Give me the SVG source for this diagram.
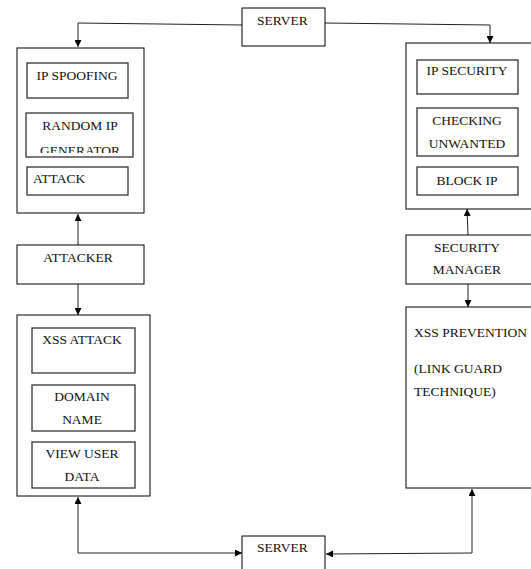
<svg xmlns="http://www.w3.org/2000/svg" width="531" height="569" viewBox="0 0 531 569">
<style>
.box{fill:#fff;stroke:#000;stroke-width:1}
.inner{fill:#fff;stroke:#333;stroke-width:1.3}
.t{font-family:"Liberation Serif","Times New Roman",serif;font-size:13.5px;fill:#111}
.m{text-anchor:middle}
.c{fill:none;stroke:#222;stroke-width:1}
</style>
<defs>
<marker id="ah" viewBox="0 0 10 10" refX="10" refY="5" markerWidth="7" markerHeight="7" markerUnits="userSpaceOnUse" orient="auto-start-reverse">
<path d="M0,0 L10,5 L0,10 Z" fill="#000"/>
</marker>
<clipPath id="clipGen"><rect x="26" y="113" width="107" height="40"/></clipPath>
</defs>
<rect width="531" height="569" fill="#fff"/>
<g id="connectors">
<polyline class="c" points="242,25 78,23 78,47" marker-end="url(#ah)"/>
<polyline class="c" points="325,23 490,25 490,43" marker-end="url(#ah)"/>
<line class="c" x1="78" y1="245" x2="78" y2="214" marker-end="url(#ah)"/>
<line class="c" x1="78" y1="284" x2="78" y2="315" marker-end="url(#ah)"/>
<polyline class="c" points="78,497 78,553 242,553" marker-start="url(#ah)" marker-end="url(#ah)"/>
<line class="c" x1="468" y1="235" x2="467" y2="209" marker-end="url(#ah)"/>
<line class="c" x1="468" y1="275" x2="468" y2="307" marker-end="url(#ah)"/>
<polyline class="c" points="472,489 472,553 326,554" marker-start="url(#ah)" marker-end="url(#ah)"/>
</g>
<g id="server-top">
<rect class="box" x="242" y="8" width="83" height="38"/>
<text class="t" x="257" y="25">SERVER</text>
</g>
<g id="attacker-ip">
<rect class="box" x="17" y="48" width="127" height="165"/>
<g id="ip-spoofing">
<rect class="inner" x="27" y="63" width="101" height="35"/>
<text class="t m" x="77" y="80">IP SPOOFING</text>
</g>
<g id="random-ip">
<rect class="inner" x="26" y="113" width="107" height="44"/>
<text class="t m" x="80" y="130">RANDOM IP</text>
<text class="t m" x="80" y="155" clip-path="url(#clipGen)">GENERATOR</text>
</g>
<g id="attack">
<rect class="inner" x="27" y="167" width="101" height="28"/>
<text class="t" x="33" y="183">ATTACK</text>
</g>
</g>
<g id="attacker">
<rect class="box" x="17" y="245" width="127" height="39"/>
<text class="t m" x="78" y="262">ATTACKER</text>
</g>
<g id="attacker-xss">
<rect class="box" x="17" y="315" width="133" height="181"/>
<g id="xss-attack">
<rect class="inner" x="32" y="328" width="103" height="45"/>
<text class="t m" x="82" y="344">XSS ATTACK</text>
</g>
<g id="domain-name">
<rect class="inner" x="32" y="385" width="103" height="46"/>
<text class="t m" x="82" y="401">DOMAIN</text>
<text class="t m" x="82" y="424">NAME</text>
</g>
<g id="view-user-data">
<rect class="inner" x="32" y="442" width="103" height="46"/>
<text class="t m" x="82" y="458">VIEW USER</text>
<text class="t m" x="82" y="481">DATA</text>
</g>
</g>
<g id="server-bottom">
<rect class="box" x="242" y="536" width="83" height="40"/>
<text class="t" x="257" y="552">SERVER</text>
</g>
<g id="ip-security-group">
<rect class="box" x="406" y="43" width="127" height="166"/>
<g id="ip-security">
<rect class="inner" x="417" y="60" width="101" height="34"/>
<text class="t m" x="467" y="75">IP SECURITY</text>
</g>
<g id="checking-unwanted">
<rect class="inner" x="417" y="108" width="101" height="48"/>
<text class="t m" x="467" y="125">CHECKING</text>
<text class="t m" x="467" y="148">UNWANTED</text>
</g>
<g id="block-ip">
<rect class="inner" x="417" y="167" width="101" height="28"/>
<text class="t m" x="467" y="185">BLOCK IP</text>
</g>
</g>
<g id="security-manager">
<rect class="box" x="406" y="235" width="127" height="49"/>
<text class="t m" x="467" y="252">SECURITY</text>
<text class="t m" x="467" y="274">MANAGER</text>
</g>
<g id="xss-prevention">
<rect class="box" x="406" y="307" width="127" height="181"/>
<text class="t" x="414" y="337">XSS PREVENTION</text>
<text class="t" x="414" y="373">(LINK GUARD</text>
<text class="t" x="414" y="396">TECHNIQUE)</text>
</g>
</svg>
